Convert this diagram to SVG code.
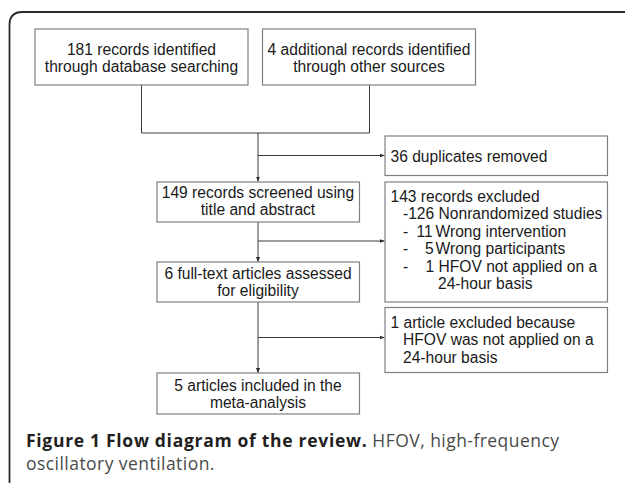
<svg xmlns="http://www.w3.org/2000/svg" width="625" height="483" viewBox="0 0 625 483">
  <style>
    .box { fill: #ffffff; stroke: #808080; stroke-width: 1.2; }
    .lbl { font-family: "Liberation Sans", Arial, sans-serif; font-size: 15.6px; fill: #1a1a1a; }
    .mid { text-anchor: middle; }
    .wire { fill: none; stroke: #3a3a3a; stroke-width: 1; }
    .cap { font-family: "Open Sans", "Noto Sans", sans-serif; font-size: 17.5px; }
    .capb { font-weight: bold; fill: #231f20; letter-spacing: 0.7px; }
    .capn { fill: #4a4a4a; letter-spacing: 0.45px; }
  </style>
  <defs>
    <marker id="head" viewBox="0 0 5 6" refX="5" refY="3" markerWidth="5" markerHeight="6" markerUnits="userSpaceOnUse" orient="auto">
      <path d="M0,1 L5,3 L0,5 Z" fill="#2a2a2a"/>
    </marker>
  </defs>

  <rect width="625" height="483" fill="#ffffff"/>

  <!-- figure frame, open to the right and bottom -->
  <path d="M9.5,483 V25 Q9.5,12 22.5,12 H625" fill="none" stroke="#2a2a2a" stroke-width="1.8"/>

  <g id="connectors">
    <path class="wire" d="M141.5,85 V133 H369.5 V85"/>
    <path class="wire" d="M258,133 V181.5" marker-end="url(#head)"/>
    <path class="wire" d="M258,155.5 H384.5" marker-end="url(#head)"/>
    <path class="wire" d="M258,222 V262" marker-end="url(#head)"/>
    <path class="wire" d="M258,241 H384.5" marker-end="url(#head)"/>
    <path class="wire" d="M258,302 V373" marker-end="url(#head)"/>
    <path class="wire" d="M258,337.5 H384.5" marker-end="url(#head)"/>
  </g>

  <g id="database-records">
    <rect class="box" x="35" y="29" width="213" height="56"/>
    <text class="lbl mid" x="141.5" y="54.5">181 records identified</text>
    <text class="lbl mid" x="141.5" y="71.5">through database searching</text>
  </g>

  <g id="other-records">
    <rect class="box" x="262.5" y="29" width="213" height="56"/>
    <text class="lbl mid" x="369" y="54.5">4 additional records identified</text>
    <text class="lbl mid" x="369" y="71.5">through other sources</text>
  </g>

  <g id="duplicates">
    <rect class="box" x="385" y="136" width="222.5" height="39.5"/>
    <text class="lbl" x="390.5" y="161.5">36 duplicates removed</text>
  </g>

  <g id="screened">
    <rect class="box" x="157" y="182" width="202.5" height="40"/>
    <text class="lbl mid" x="258" y="197.5">149 records screened using</text>
    <text class="lbl mid" x="258" y="215">title and abstract</text>
  </g>

  <g id="excluded-records">
    <rect class="box" x="385" y="182" width="222.5" height="120"/>
    <text class="lbl" x="390.5" y="201.5">143 records excluded</text>
    <text class="lbl" x="403" y="219">-126 Nonrandomized studies</text>
    <text class="lbl" y="236.5"><tspan x="403">-</tspan><tspan x="416.5">11</tspan><tspan x="435.5">Wrong intervention</tspan></text>
    <text class="lbl" y="254"><tspan x="403">-</tspan><tspan x="425">5</tspan><tspan x="435.5">Wrong participants</tspan></text>
    <text class="lbl" y="271.5"><tspan x="403">-</tspan><tspan x="425.5">1 HFOV not applied on a</tspan></text>
    <text class="lbl" x="438" y="289">24-hour basis</text>
  </g>

  <g id="full-text">
    <rect class="box" x="157" y="262" width="202.5" height="40"/>
    <text class="lbl mid" x="258" y="278.5">6 full-text articles assessed</text>
    <text class="lbl mid" x="258" y="296">for eligibility</text>
  </g>

  <g id="excluded-article">
    <rect class="box" x="385" y="307.5" width="222.5" height="65"/>
    <text class="lbl" x="390.5" y="327.5">1 article excluded because</text>
    <text class="lbl" x="403" y="345">HFOV was not applied on a</text>
    <text class="lbl" x="403" y="362.5">24-hour basis</text>
  </g>

  <g id="included">
    <rect class="box" x="157" y="373" width="202.5" height="41"/>
    <text class="lbl mid" x="258" y="390.5">5 articles included in the</text>
    <text class="lbl mid" x="258" y="408">meta-analysis</text>
  </g>

  <g id="caption">
    <text class="cap" x="26" y="446.5"><tspan class="capb">Figure 1 Flow diagram of the review.</tspan><tspan class="capn"> HFOV, high-frequency</tspan></text>
    <text class="cap capn" x="26" y="469.5">oscillatory ventilation.</text>
  </g>
</svg>
